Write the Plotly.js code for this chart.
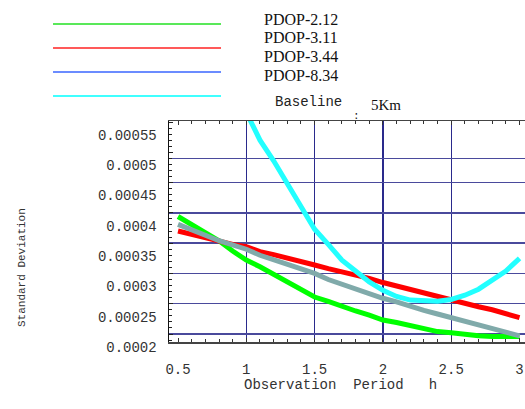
<!DOCTYPE html>
<html>
<head>
<meta charset="utf-8">
<script src="https://cdn.plot.ly/plotly-3.0.1.min.js"></script>
<style>html,body{margin:0;padding:0;background:#fff;}#chart{width:525px;height:409px;}</style>
</head>
<body>
<div id="chart"></div>
<script>
// Observation period (h)
const periodX = [0.5,0.6,0.7,0.8,0.9,1.0,1.1,1.2,1.3,1.4,1.5,1.6,1.7,1.8,1.9,2.0,2.1,2.2,2.3,2.4,2.5,2.6,2.7,2.8,2.9,3.0];
const cyanX   = [1.0,1.1,1.2,1.3,1.4,1.5,1.6,1.7,1.8,1.9,2.0,2.1,2.2,2.3,2.4,2.5,2.6,2.7,2.8,2.9,3.0];

// Standard deviation series
const pdop212 = [0.000394,0.000380,0.000366,0.000354,0.000337,0.000322,0.000311,0.000298,0.000285,0.000273,0.000261,0.000254,0.000245,0.000238,0.000231,0.000223,0.000219,0.000214,0.000209,0.000204,0.000202,0.000199,0.000197,0.000196,0.000196,0.000196];
const pdop311 = [0.000370,0.000364,0.000358,0.000352,0.000348,0.000344,0.000336,0.000331,0.000326,0.000321,0.000314,0.000308,0.000303,0.000297,0.000292,0.000285,0.000279,0.000273,0.000268,0.000263,0.000256,0.000250,0.000245,0.000240,0.000233,0.000227];
const pdop344 = [0.000381,0.000373,0.000363,0.000354,0.000347,0.000340,0.000330,0.000323,0.000316,0.000308,0.000300,0.000290,0.000282,0.000273,0.000267,0.000259,0.000253,0.000245,0.000239,0.000233,0.000227,0.000221,0.000216,0.000210,0.000203,0.000197];
const pdop834 = [0.000566,0.000520,0.000486,0.000448,0.000411,0.000373,0.000348,0.000322,0.000304,0.000286,0.000272,0.000262,0.000256,0.000254,0.000254,0.000257,0.000264,0.000274,0.000289,0.000304,0.000325];

// Tick labels
const yTickVals = [0.0002,0.00025,0.0003,0.00035,0.0004,0.00045,0.0005,0.00055];
const yTickText = ['0.0002','0.00025','0.0003','0.00035','0.0004','0.00045','0.0005','0.00055'];
const xTickVals = [0.5,1,1.5,2,2.5,3];
const xTickText = ['0.5','1','1.5','2','2.5','3'];
const yGridVals = [0.0002,0.00025,0.0003,0.00035,0.0004,0.00045,0.00049];
const xGridVals = [1,1.5,2,2.5];

const legendNames = ['PDOP-2.12','PDOP-3.11','PDOP-3.44','PDOP-8.34'];
const legendLineColors = ['#22e022','#ff2222','#3a66ff','#00ffff'];

const mono = 'Liberation Mono, Courier New, monospace';
const serif = 'Liberation Serif, Times New Roman, serif';

const traces = [
  {x: periodX, y: pdop212, mode:'lines', line:{color:'#00ff00', width:5}, name: legendNames[0]},
  {x: periodX, y: pdop311, mode:'lines', line:{color:'#ff0000', width:5}, name: legendNames[1]},
  {x: periodX, y: pdop344, mode:'lines', line:{color:'#80aaaa', width:5}, name: legendNames[2]},
  {x: cyanX,   y: pdop834, mode:'lines', line:{color:'#22ffff', width:5}, name: legendNames[3]}
];

const yRange = [0.0001868, 0.0005517];
const xRange = [0.434, 3.040];

const legendLineY = [1.4389, 1.3303, 1.2217, 1.1131];
const legendTextY = [1.4615, 1.3756, 1.2941, 1.2081];

const shapes = legendLineColors.map((c,i)=>({
  type:'line', xref:'paper', yref:'paper', x0:-0.3258, x1:0.1461, y0:legendLineY[i], y1:legendLineY[i],
  line:{color:c, width:1.3}
}));

const annotations = legendNames.map((t,i)=>({
  text:t, xref:'paper', yref:'paper', x:0.262, y:legendTextY[i], xanchor:'left', yanchor:'middle',
  showarrow:false, font:{family:serif, size:16, color:'#111'}
}));
annotations.push(
  {text:'Baseline', xref:'paper', yref:'paper', x:0.293, y:1.086, xanchor:'left', yanchor:'middle', showarrow:false, font:{family:mono, size:14, color:'#222'}},
  {text:'5Km', xref:'paper', yref:'paper', x:0.563, y:1.0724, xanchor:'left', yanchor:'middle', showarrow:false, font:{family:serif, size:15, color:'#111'}},
  {text:':', xref:'paper', yref:'paper', x:0.528, y:1.024, xanchor:'center', yanchor:'middle', showarrow:false, font:{family:mono, size:11, color:'#222'}},
  {text:'Observation\u00a0\u00a0Period\u00a0\u00a0\u00a0h', xref:'paper', yref:'paper', x:0.4831, y:-0.1946, xanchor:'center', yanchor:'middle', showarrow:false, font:{family:mono, size:14, color:'#333'}},
  {text:'Standard Deviation', xref:'paper', yref:'paper', x:-0.4129, y:0.3348, xanchor:'center', yanchor:'middle', textangle:-90, showarrow:false, font:{family:mono, size:11, color:'#333'}}
);

const layout = {
  width:525, height:409,
  margin:{l:169, r:0, t:121, b:67, pad:0},
  paper_bgcolor:'#ffffff', plot_bgcolor:'#ffffff',
  showlegend:false,
  xaxis:{
    range:xRange, tickmode:'array', tickvals:xTickVals, ticktext:xTickText,
    showgrid:false, zeroline:false, showline:true, linecolor:'#444', linewidth:1.5,
    mirror:'ticks', ticks:'inside', ticklen:4, tickcolor:'#333', tickwidth:1,
    minor:{dtick:0.1, tick0:0, ticks:'inside', ticklen:3, tickcolor:'#333', showgrid:false},
    ticklabelstandoff:14,
    tickfont:{family:mono, size:14, color:'#333'}
  },
  xaxis2:{
    range:xRange, overlaying:'x', tickmode:'array', tickvals:xGridVals,
    showgrid:true, gridcolor:'#2a2a8c', gridwidth:1.4, showticklabels:false, ticks:'', showline:false, zeroline:false
  },
  yaxis:{
    range:yRange, tickmode:'array', tickvals:yTickVals, ticktext:yTickText,
    showgrid:false, zeroline:false, showline:true, linecolor:'#111', linewidth:1.5,
    ticks:'inside', ticklen:4, tickcolor:'#222', tickwidth:1,
    minor:{dtick:0.00001, tick0:0, ticks:'inside', ticklen:2.5, tickcolor:'#222', showgrid:false},
    ticklabelshift:13, ticklabelstandoff:8,
    tickfont:{family:mono, size:14, color:'#333'}
  },
  yaxis2:{
    range:yRange, overlaying:'y', tickmode:'array', tickvals:yGridVals,
    showgrid:true, gridcolor:'#4a4a9c', gridwidth:1.4, showticklabels:false, ticks:'', showline:false, zeroline:false
  },
  shapes:shapes,
  annotations:annotations
};

// grid overlay traces (no visible marks) so overlay axes are drawn
const gridTrace = {x:[xRange[0]], y:[yRange[0]], xaxis:'x2', yaxis:'y2', mode:'markers', marker:{opacity:0}, hoverinfo:'skip', showlegend:false};

Plotly.newPlot('chart', [gridTrace].concat(traces), layout, {staticPlot:true, displayModeBar:false});
</script>
</body>
</html>
